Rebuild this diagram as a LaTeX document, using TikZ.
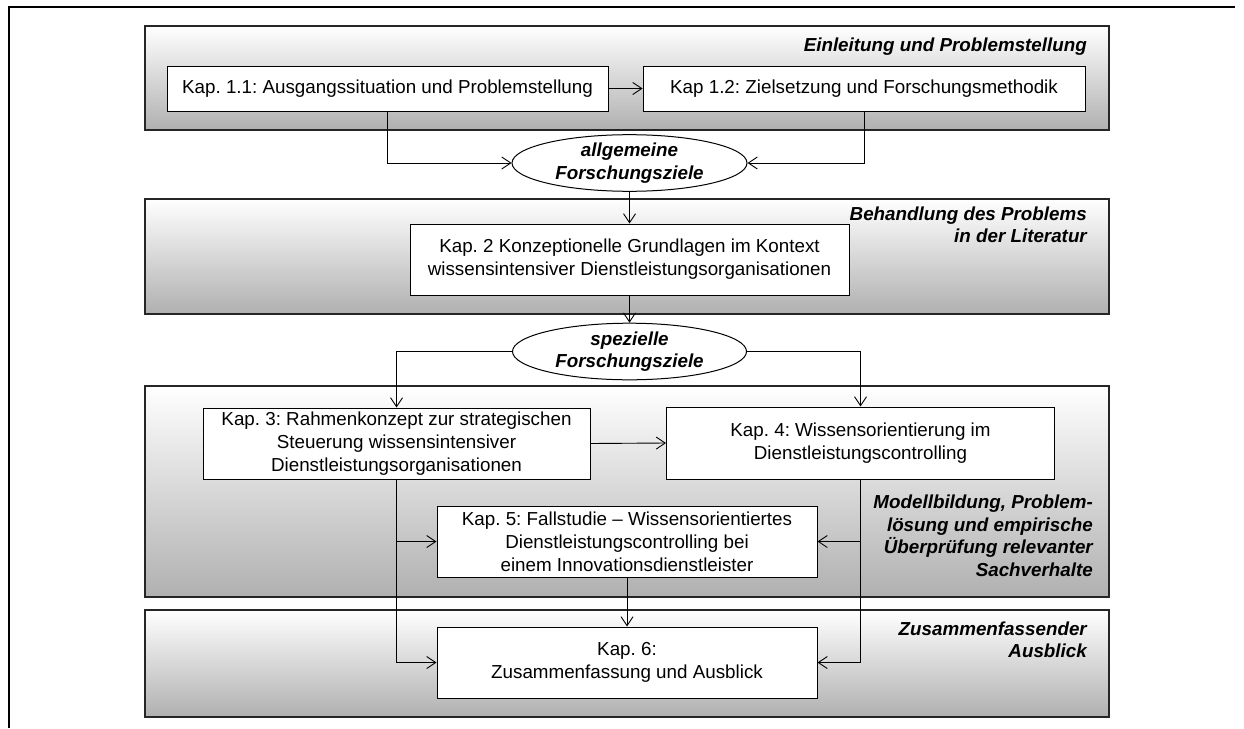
\documentclass[tikz,border=0pt]{standalone}
\usepackage{fontspec}
\setmainfont{Liberation Sans}
\usetikzlibrary{arrows.meta,shapes.geometric}
\frenchspacing

\tikzset{
  band/.style={draw=black!85, line width=1.7pt, top color=white, bottom color=black!31,
    anchor=north west, inner sep=0pt},
  chapbox/.style={draw=black, line width=1pt, fill=white, align=center, inner sep=0pt,
    font=\fontsize{18.8}{22.8}\selectfont},
  goal/.style={ellipse, draw=black, line width=1pt, fill=white, align=center, inner sep=0pt,
    font=\fontsize{18.8}{22.5}\selectfont\bfseries\itshape},
  bandlabel/.style={align=right, inner sep=0pt, anchor=east,
    font=\fontsize{18.8}{22.5}\selectfont\bfseries\itshape},
  link/.style={draw=black, line width=0.9pt},
  flow/.style={link, -{Straight Barb[length=9pt,width=12pt]}},
}

\begin{document}
\begin{tikzpicture}[x=1pt,y=-1pt]
\useasboundingbox (0,0) rectangle (1244,728);

% open outer frame
\coordinate (frameTL) at (9,7);
\coordinate (frameTR) at (1235,7);
\coordinate (frameBL) at (9,728);
\draw[line width=2pt] (frameTR) -- (frameTL) -- (frameBL);

% shaded phase bands
\node[band, minimum width=964pt, minimum height=104pt] (band1) at (144,25) {};
\node[band, minimum width=964pt, minimum height=115pt] (band2) at (144,198) {};
\node[band, minimum width=964pt, minimum height=211pt] (band3) at (144,385) {};
\node[band, minimum width=964pt, minimum height=107pt] (band4) at (144,609) {};

% phase titles
\node[bandlabel] (lab1) at (1087,47) {Einleitung und Problemstellung};
\node[bandlabel] (lab2) at (1087,225) {Behandlung des Problems\\in der Literatur};
\node[bandlabel] (lab3) at (1093,536) {Modellbildung, Problem-\\lösung und empirische\\Überprüfung relevanter\\Sachverhalte};
\node[bandlabel] (lab4) at (1087,640) {Zusammenfassender\\Ausblick};

% chapters
\node[chapbox, minimum width=441pt, minimum height=45pt] (k11) at (387.5,88.5)
  {Kap. 1.1: Ausgangssituation und Problemstellung};
\node[chapbox, minimum width=442pt, minimum height=45pt] (k12) at (864,88.5)
  {Kap 1.2: Zielsetzung und Forschungsmethodik};
\node[goal, minimum width=235pt, minimum height=50pt] (e1) at (629.5,163)
  {allgemeine\\Forschungsziele};
\node[chapbox, minimum width=439pt, minimum height=71pt] (k2) at (629.5,259.5)
  {Kap. 2 Konzeptionelle Grundlagen im Kontext\\wissensintensiver Dienstleistungsorganisationen};
\node[goal, minimum width=234pt, minimum height=49pt] (e2) at (629.5,351.5)
  {spezielle\\Forschungsziele};
\node[chapbox, minimum width=387pt, minimum height=71pt] (k3) at (396.5,443.5)
  {Kap. 3: Rahmenkonzept zur strategischen\\Steuerung wissensintensiver\\Dienstleistungsorganisationen};
\node[chapbox, minimum width=388pt, minimum height=72pt] (k4) at (860.5,443)
  {Kap. 4: Wissensorientierung im\\Dienstleistungscontrolling};
\node[chapbox, minimum width=380pt, minimum height=71pt] (k5) at (627,541.5)
  {Kap. 5: Fallstudie -- Wissensorientiertes\\Dienstleistungscontrolling bei\\einem Innovationsdienstleister};
\node[chapbox, minimum width=380pt, minimum height=71pt] (k6) at (627,662.5)
  {Kap. 6:\\Zusammenfassung und Ausblick};

% connectors
\draw[flow] (k11.east) -- (k12.west);
\draw[flow] (k11.south) |- (e1.west);
\draw[flow] (k12.south) |- (e1.east);
\draw[flow] (e1.south) -- (k2.north);
\draw[flow] (k2.south) -- (e2.north);
\draw[flow] (e2.west) -| (k3.north);
\draw[flow] (e2.east) -| (k4.north);
\draw[flow] (k3.east) -- (k4.west);
\draw[flow] (k3.south) |- (k6.west);
\draw[flow] (k3.south |- k5.west) -- (k5.west);
\draw[flow] (k4.south) |- (k6.east);
\draw[flow] (k4.south |- k5.east) -- (k5.east);
\draw[flow] (k5.south) -- (k6.north);
\end{tikzpicture}
\end{document}
